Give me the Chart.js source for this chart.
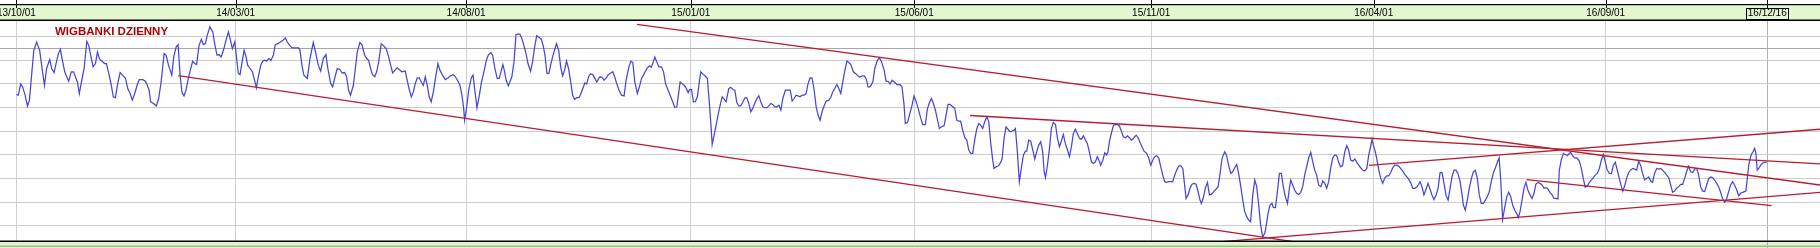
<!DOCTYPE html>
<html><head><meta charset="utf-8">
<script src="https://cdn.jsdelivr.net/npm/chart.js@4/dist/chart.umd.min.js"></script>
<style>html,body{margin:0;padding:0;background:#fff;overflow:hidden}canvas{display:block}</style>
</head><body>
<canvas id="c" width="1820" height="248"></canvas>
<script>
// ---------------- data ----------------
const chartTitle = 'WIGBANKI DZIENNY';
// trading-day index (0 = 2013-10-01) of each dated tick
const tickDays = [0, 100.6, 206.3, 309.4, 411.9, 520.6, 622.7, 729.1, 803.2];
const tickLabels = ['13/10/01','14/03/01','14/08/01','15/01/01','15/06/01','15/11/01','16/04/01','16/09/01','16/12/16'];
// level gridlines (relative index units); 8.5 is the darker reference line
const gridLevels = [1, 2, 3, 4, 5, 6, 7, 8, 8.5, 9];

const tradingDay = [
0.0,0.9,2.0,2.9,4.0,5.1,6.0,7.0,8.0,9.3,
10.7,11.8,12.9,13.9,15.3,16.2,17.3,18.4,19.3,20.2,
21.1,22.2,23.1,24.0,25.2,26.2,27.4,28.0,28.9,30.0,
31.1,32.3,33.2,34.1,35.2,36.3,37.2,38.1,39.3,40.5,
41.3,42.4,43.4,44.5,45.4,46.5,47.6,48.5,50.0,51.1,
52.2,53.2,54.3,55.4,56.4,58.0,59.2,60.1,60.9,61.6,
62.9,64.2,65.3,66.4,67.8,68.7,69.8,71.3,72.2,73.3,
74.2,75.1,76.0,76.9,77.8,78.9,79.8,80.9,81.8,82.7,
83.8,84.9,85.8,86.7,87.6,88.8,90.1,91.1,92.1,93.0,
93.9,95.0,96.2,97.3,98.2,99.1,100.2,100.9,101.8,102.6,
103.7,104.5,105.4,106.1,107.2,108.3,109.3,110.1,111.0,112.1,
113.0,113.9,114.8,115.8,116.8,117.9,118.8,120.0,121.1,122.3,
123.4,124.3,125.4,126.5,129.5,
130.1,131.0,131.9,133.5,134.7,136.2,137.4,138.5,139.6,140.8,
142.0,142.9,144.2,145.1,146.2,147.2,148.4,149.5,150.6,151.5,
152.4,153.3,154.6,155.5,156.4,157.6,158.5,159.8,160.7,161.6,
162.5,163.4,164.4,165.3,166.2,167.4,168.3,169.6,170.8,171.7,
172.6,173.7,174.7,176.0,176.9,178.4,179.3,180.3,181.2,182.1,
183.0,183.9,184.8,185.8,186.7,187.6,188.5,189.4,190.3,191.3,
192.5,193.4,194.3,195.5,196.8,198.0,199.2,200.4,201.4,202.6,
203.5,204.4,205.2,205.6,206.6,207.5,208.7,209.5,210.4,211.3,
212.4,213.4,214.5,215.6,216.6,217.7,218.5,219.5,220.6,221.5,
222.5,223.2,224.0,224.7,225.7,226.4,227.3,228.3,229.2,230.2,
231.0,231.9,232.8,233.8,234.7,235.9,236.8,237.7,238.7,239.9,
240.8,241.7,242.5,243.4,244.3,245.1,246.0,246.9,247.8,248.8,
249.7,250.6,251.5,252.4,253.3,254.3,255.2,256.1,257.0,258.2,
259.0,260.1,260.8,261.6,262.5,263.4,264.5,265.4,266.3,267.3,
267.8,268.7,269.6,270.6,271.5,272.4,273.6,274.5,275.4,276.5,
277.6,278.8,279.7,281.0,281.9,282.8,283.7,284.9,285.8,286.8,
287.7,288.6,289.5,290.4,291.3,292.3,292.9,293.8,294.7,295.9,
296.9,297.8,299.0,300.2,301.1,302.0,303.0,303.9,304.5,305.4,
306.3,307.2,308.2,308.8,309.7,310.6,311.5,312.4,313.4,314.0,
315.2,316.1,317.0,317.8,318.7,319.2,320.1,321.3,322.5,323.8,
324.7,325.6,326.8,327.7,328.7,329.6,330.5,331.4,332.3,333.2,
334.2,335.1,336.0,336.9,337.8,338.7,339.7,340.6,341.5,342.4,
343.3,344.3,345.2,346.1,347.0,347.9,348.8,349.8,350.7,351.6,
352.8,353.9,355.0,355.9,356.8,357.7,358.6,359.5,360.5,361.4,
362.3,363.2,364.1,365.0,366.0,366.9,367.8,368.7,369.6,370.6,
371.5,372.7,373.6,374.5,375.4,376.4,377.3,378.2,379.1,380.0,
381.0,381.9,382.8,384.0,384.9,385.8,386.8,388.0,388.9,389.8,
390.7,391.6,392.9,393.8,395.0,395.9,396.8,398.1,399.0,399.9,
400.8,401.7,402.7,403.9,
405.4,406.3,407.2,407.8,408.8,409.7,410.9,411.8,412.7,413.7,
414.9,415.8,417.0,417.9,418.9,419.8,420.7,421.6,422.5,423.4,
424.4,425.6,426.5,427.4,428.3,429.6,430.5,431.4,432.3,433.2,
434.1,435.1,436.0,436.9,437.8,438.7,439.7,440.6,441.5,442.4,
443.3,444.2,445.2,446.1,447.0,447.9,448.5,449.4,450.4,451.3,
452.2,453.1,454.0,454.9,455.9,456.8,457.7,458.3,459.2,460.1,
461.1,462.0,462.9,463.5,464.4,465.3,466.3,467.2,468.1,469.0,
469.9,470.8,471.5,472.1,473.0,473.9,474.8,475.7,476.7,477.6,
478.5,479.4,480.3,481.2,482.2,483.1,484.0,484.9,485.8,486.7,
487.7,488.6,489.5,490.4,491.3,492.2,493.2,494.1,495.0,495.9,
496.8,497.4,498.4,499.3,500.2,500.8,501.4,502.3,503.3,504.2,
505.1,506.0,506.9,507.8,508.8,509.7,510.6,511.5,512.4,513.7,
514.6,515.5,516.4,517.3,518.5,519.5,520.4,521.3,522.2,523.1,
524.1,525.0,525.9,526.8,527.7,528.6,530.5,531.4,532.3,533.2,
534.1,535.1,536.0,536.6,537.5,538.4,539.3,540.3,541.2,542.1,
543.0,543.6,544.5,545.4,546.4,547.3,548.2,549.4,550.3,551.3,
552.2,553.1,554.3,555.2,556.1,557.1,558.0,558.9,559.8,560.7,
561.7,562.6,563.5,564.4,565.3,566.2,567.2,568.1,569.0,569.9,
570.8,571.7,572.7,573.3,574.2,575.1,576.0,576.6,577.6,578.5,
579.4,580.3,581.2,582.1,583.1,584.0,584.6,585.5,586.4,587.3,
588.3,589.2,590.1,591.0,591.9,592.8,593.8,594.7,595.6,596.5,
597.4,598.4,599.3,600.2,601.1,602.0,602.9,603.9,604.8,605.7,
606.6,607.5,608.4,609.4,610.3,611.2,612.1,613.0,614.0,614.9,
615.8,616.7,617.6,618.5,619.5,620.4,621.3,621.9,622.5,623.4,
624.0,625.0,625.9,626.8,627.7,628.6,629.5,630.5,631.4,632.3,
633.2,634.1,635.0,636.0,636.9,637.8,638.7,639.6,640.6,641.5,
642.4,643.3,643.9,644.8,645.7,646.7,647.6,648.5,649.4,650.3,
651.3,652.2,653.1,654.0,654.9,655.8,656.8,657.7,658.6,659.5,
660.4,661.3,662.3,663.2,663.8,664.7,665.6,666.5,667.5,668.4,
669.3,670.2,671.1,672.0,673.0,673.9,674.8,675.7,676.6,677.6,
678.5,679.4,680.2,
680.9,681.8,682.7,683.7,684.6,685.5,686.4,687.3,688.2,689.0,
689.8,690.7,691.6,692.5,693.4,694.4,695.3,696.2,697.1,698.0,
698.9,699.9,700.8,701.7,702.6,703.5,704.5,705.4,706.3,707.2,
707.8,708.7,709.7,710.6,711.5,712.4,713.0,713.9,714.8,715.8,
717.0,717.9,718.8,719.7,720.7,721.6,722.5,723.4,724.3,725.2,
726.2,727.1,728.0,728.9,729.8,730.8,731.7,732.6,733.5,734.4,
735.3,736.3,736.9,737.8,738.7,739.6,740.5,741.5,742.4,743.3,
744.2,745.1,746.0,747.0,747.9,748.8,749.7,750.6,751.5,752.5,
753.4,754.3,755.2,756.1,757.1,758.0,758.9,759.8,760.7,761.6,
762.6,763.5,764.4,765.3,766.2,767.1,768.1,769.0,769.9,770.8,
771.7,772.6,773.6,774.5,775.4,776.3,777.2,778.2,779.1,780.0,
780.9,781.8,782.7,783.7,784.6,785.5,786.4,787.3,788.2,789.2,
790.1,791.0,791.9,792.8,793.4,794.1,794.7,795.3,795.9,796.8,
797.4,798.0,798.6,799.3,800.2,801.1,802.0,802.9
];

const indexLevel = [
6.55,6.52,7.00,6.87,6.52,6.06,6.31,7.37,8.42,8.77,
8.42,7.65,6.94,7.65,8.03,7.65,7.48,7.93,8.28,8.46,
8.00,7.51,7.30,7.11,7.51,7.51,7.23,7.08,6.59,7.15,
7.65,8.80,8.63,8.21,7.72,7.86,8.35,8.07,7.96,7.86,
7.86,7.44,7.01,6.45,6.41,7.01,7.48,7.39,7.25,6.80,
6.59,6.31,6.59,6.94,7.18,7.18,7.11,6.94,6.73,6.24,
6.17,6.07,6.38,7.08,8.28,8.21,7.79,7.37,8.14,8.56,
8.66,7.39,6.63,6.49,6.73,7.23,7.58,7.96,7.86,7.82,
8.63,8.89,8.66,8.70,9.06,9.41,9.20,8.63,8.21,8.24,
8.14,8.42,8.85,9.20,8.85,8.49,8.77,8.21,7.44,7.39,
8.00,8.42,8.14,7.79,7.65,7.51,7.15,6.83,7.30,7.79,
7.96,8.00,7.96,8.07,8.00,8.21,8.66,8.70,8.77,8.85,
8.94,8.77,8.63,8.52,8.52,
8.42,7.79,7.37,7.23,8.07,8.75,8.28,7.79,7.54,8.07,
8.24,7.65,7.01,6.87,7.30,7.65,7.61,7.46,7.48,7.30,
6.73,6.52,6.94,7.65,8.35,8.75,8.66,8.21,8.07,8.00,
7.65,7.39,7.30,7.51,7.93,8.70,8.63,8.49,8.14,7.79,
7.46,7.58,7.68,7.58,7.51,7.54,7.15,6.73,6.45,6.66,
7.01,7.25,7.25,7.08,6.94,7.30,6.94,6.45,6.24,6.66,
7.37,7.86,7.58,7.37,7.18,7.25,7.34,7.39,7.30,7.11,
6.94,6.52,5.96,5.46,6.03,6.73,7.25,7.37,6.66,5.99,
6.52,7.08,7.51,8.00,8.24,8.32,8.21,7.65,7.23,7.23,
7.58,7.82,7.51,7.15,6.92,7.08,7.30,7.93,9.08,9.11,
9.10,8.92,8.63,8.28,7.86,7.54,7.93,8.52,9.03,8.96,
8.89,8.61,8.21,7.44,7.44,7.79,8.14,8.42,8.70,8.42,
7.72,7.34,7.58,7.97,7.65,7.08,6.52,6.34,6.42,6.42,
6.59,6.87,7.04,6.99,7.30,7.42,7.39,7.23,7.08,7.25,
7.30,7.28,7.15,7.25,7.39,7.44,7.51,7.30,7.01,6.73,
6.52,6.49,7.15,7.72,7.96,7.90,7.08,6.59,6.87,7.23,
7.37,7.54,7.68,7.76,7.70,7.96,8.13,7.93,7.72,7.72,
7.51,7.01,6.73,6.45,6.24,6.00,6.03,6.66,7.08,7.01,
6.94,6.83,6.63,6.76,6.76,6.24,6.25,6.45,7.15,7.51,
7.39,7.32,7.23,6.31,5.18,4.44,4.83,5.39,5.96,6.45,
6.35,6.24,6.80,6.85,6.76,6.73,6.21,6.07,6.07,6.21,
6.41,6.41,6.17,5.82,5.96,6.17,6.38,6.49,6.24,6.03,
5.99,5.99,6.07,6.17,6.13,6.03,6.03,6.10,5.89,6.38,
6.73,6.73,6.73,6.27,6.38,6.52,6.49,6.45,6.52,6.52,
6.59,7.01,7.25,7.25,6.73,6.03,5.68,5.46,5.82,6.07,
6.27,6.31,6.42,6.66,6.80,6.97,6.80,6.59,7.08,7.54,
7.96,7.90,7.82,7.51,7.44,7.37,7.28,7.34,7.34,7.23,
6.87,6.87,7.08,7.65,8.00,8.10,7.96,7.58,7.11,7.11,
6.99,7.15,7.08,6.97,
6.97,6.87,6.13,5.32,5.37,5.68,6.10,6.49,6.27,5.96,
5.54,5.28,5.28,5.93,6.21,6.38,6.17,5.89,5.51,5.11,
5.18,5.23,5.68,6.13,6.13,6.03,5.96,5.46,5.42,5.42,
5.04,4.72,4.62,4.20,4.06,4.06,4.66,5.11,5.32,5.25,
5.11,5.39,5.61,5.39,4.48,3.77,3.42,3.49,3.52,3.63,
3.82,4.69,5.18,5.08,4.97,5.00,5.04,5.11,4.13,2.86,
3.49,3.99,4.15,4.15,4.62,4.58,4.20,3.82,4.13,4.41,
4.55,4.13,3.28,3.03,3.56,4.24,5.11,5.37,5.28,4.69,
4.34,4.58,4.86,4.48,4.20,3.92,4.34,4.90,5.08,4.90,
4.69,4.66,4.80,4.63,4.48,4.13,3.70,3.63,3.70,3.92,
3.73,3.56,3.77,4.08,3.99,4.13,4.55,4.90,5.25,5.28,
5.28,5.23,5.00,4.76,4.72,4.80,4.72,4.62,4.69,4.83,
4.72,4.52,4.34,4.15,4.06,3.85,3.56,3.77,3.92,3.96,
3.85,3.49,3.14,2.86,2.83,2.86,2.86,3.14,3.35,3.52,
3.54,3.42,2.65,2.15,2.30,2.58,2.75,2.79,2.75,2.44,
2.08,1.94,2.18,2.58,2.83,2.30,2.32,2.46,2.54,2.65,
3.21,3.85,4.13,3.96,3.56,3.21,3.28,3.45,3.59,3.21,
2.65,2.08,1.59,1.38,1.24,1.17,2.30,2.93,2.65,1.87,
1.03,0.53,0.68,0.96,1.52,1.87,1.94,1.77,1.76,2.44,
3.21,3.21,2.65,2.23,1.94,2.58,2.93,2.72,2.51,2.37,
2.32,2.41,2.65,3.14,3.49,3.85,4.10,3.70,3.35,3.14,
2.72,2.65,2.89,2.79,2.58,2.86,3.42,3.87,3.99,3.96,
3.68,3.49,3.54,4.13,4.38,4.20,3.77,3.73,3.82,3.68,
3.56,3.45,3.35,3.31,3.42,3.99,4.37,4.66,4.41,4.13,
3.87,3.35,3.00,2.79,3.00,3.11,3.11,3.25,3.45,3.56,
3.56,3.52,3.42,3.31,3.17,3.07,2.97,2.82,2.58,2.58,
2.63,2.75,2.86,2.65,2.30,2.55,2.79,2.55,2.30,2.11,
2.30,2.58,3.24,3.25,2.79,2.30,2.08,2.58,3.07,3.35,
3.35,3.21,2.86,2.30,1.87,1.65,2.08,2.58,3.00,3.28,
3.34,3.00,2.30,1.94,1.94,2.08,2.23,2.44,2.86,3.25,
3.45,3.68,3.87,
2.99,1.27,1.73,2.23,2.41,2.23,1.87,1.66,1.52,1.34,
1.59,2.08,2.58,2.83,2.51,2.30,2.15,2.37,2.76,2.83,
2.79,2.72,2.58,2.61,2.55,2.41,2.30,2.15,2.15,2.13,
3.35,3.77,4.06,4.01,3.96,4.06,4.10,3.96,3.87,3.87,
3.73,3.42,3.00,2.63,2.69,2.83,2.93,3.03,3.14,3.21,
3.42,3.77,4.01,3.70,3.35,3.21,3.20,3.56,3.68,3.35,
3.00,2.65,2.46,2.69,3.00,3.25,3.35,3.42,3.39,3.35,
3.73,3.56,3.21,2.93,3.00,3.06,2.89,2.83,3.21,3.42,
3.39,3.42,3.35,3.25,3.14,3.03,2.72,2.41,2.46,2.58,
2.65,2.75,2.75,3.00,3.28,3.51,3.28,3.25,3.39,3.42,
3.17,2.65,2.46,2.44,2.72,2.97,3.06,3.03,2.92,2.79,
2.65,2.41,2.15,1.99,2.15,2.44,2.72,2.86,2.72,2.51,
2.27,2.37,2.41,2.44,2.46,3.03,3.54,3.82,4.01,4.15,
4.27,4.06,3.35,3.42,3.56,3.65,3.68,3.68
];

// hand-drawn trend lines: start / end (trading day, level)
const trendStartDay   = [74.3, 284.7, 437.5, 620.5, 692.8, 548.9];
const trendStartLevel = [7.35, 9.52, 5.66, 3.55, 2.95, 0.29];
const trendEndDay     = [588.9, 827.4, 827.4, 827.4, 805.2, 827.4];
const trendEndLevel   = [0.28, 2.72, 3.61, 5.08, 1.85, 2.41];

// ---------------- chart ----------------
const DAY_MIN = -7.5, DAY_MAX = 827.4, LEVEL_MIN = 0.35, LEVEL_MAX = 9.66;
const FONT = '"Liberation Sans", Arial, sans-serif';

const n = Math.min(tradingDay.length, indexLevel.length);
const series = [];
for (let i = 0; i < n; i++) series.push({ x: tradingDay[i], y: indexLevel[i] });

const datasets = trendStartDay.map((d, i) => ({
  data: [{ x: d, y: trendStartLevel[i] }, { x: trendEndDay[i], y: trendEndLevel[i] }],
  borderColor: '#b81e2e', borderWidth: 1.3, pointRadius: 0, fill: false
}));
datasets.push({ data: series, borderColor: '#4646d8', borderWidth: 1.25, pointRadius: 0, fill: false, tension: 0 });

const frame = {
  id: 'frame',
  beforeDraw(chart) {
    const { ctx, width, height, chartArea: a } = chart;
    ctx.save();
    ctx.fillStyle = '#ffffff'; ctx.fillRect(0, 0, width, height);
    ctx.fillStyle = '#e2f7d0'; ctx.fillRect(0, 4, width, a.top - 4);
    ctx.fillStyle = '#def5cc'; ctx.fillRect(0, a.bottom, width, height - a.bottom);
    ctx.restore();
  },
  afterDraw(chart) {
    const { ctx, width, height, chartArea: a } = chart;
    const xs = chart.scales.x;
    ctx.save();
    ctx.fillStyle = '#000';
    ctx.fillRect(0, 4, width, 1.2);
    ctx.fillRect(0, a.top - 1.5, width, 1.5);
    ctx.fillRect(0, a.bottom - 0.5, width, 1.5);
    ctx.fillStyle = '#9cbf88';
    ctx.fillRect(0, height - 2.5, width, 1.5);
    // tick marks at the top edge
    ctx.strokeStyle = '#000'; ctx.lineWidth = 1;
    tickDays.forEach(d => {
      const x = Math.round(xs.getPixelForValue(d)) + 0.5;
      ctx.beginPath(); ctx.moveTo(x, 0); ctx.lineTo(x, 8); ctx.stroke();
    });
    // cursor line continues into the bottom band
    const xl = Math.round(xs.getPixelForValue(tickDays[tickDays.length - 1])) + 0.5;
    ctx.strokeStyle = '#b4b4b4';
    ctx.beginPath(); ctx.moveTo(xl, a.bottom + 1); ctx.lineTo(xl, height); ctx.stroke();
    // box around the last (cursor) date
    ctx.strokeStyle = '#000';
    ctx.strokeRect(xl - 21, 8.5, 42, 11);
    // title
    ctx.fillStyle = '#b00000';
    ctx.font = 'bold 11.5px ' + FONT;
    ctx.textBaseline = 'middle';
    ctx.fillText(chartTitle, 55, 31.5);
    ctx.restore();
  }
};

new Chart(document.getElementById('c'), {
  type: 'line',
  data: { datasets },
  plugins: [frame],
  options: {
    responsive: false, animation: false, devicePixelRatio: 1, events: [],
    layout: { padding: { left: 0, right: 0, top: 0, bottom: 7 } },
    plugins: { legend: { display: false }, tooltip: { enabled: false }, title: { display: false } },
    scales: {
      x: {
        type: 'linear', position: 'top', min: DAY_MIN, max: DAY_MAX,
        afterBuildTicks: s => { s.ticks = tickDays.map(v => ({ value: v })); },
        afterFit: s => { s.height = 21; s.paddingLeft = 0; s.paddingRight = 0; },
        ticks: {
          autoSkip: false, maxRotation: 0, minRotation: 0, padding: 2, color: '#000',
          font: { family: FONT, size: 10 },
          callback: (v, i) => tickLabels[i]
        },
        grid: {
          drawTicks: false,
          color: c => (c.index === tickDays.length - 1 ? '#b0b0b0' : '#cfcfcf'),
          lineWidth: 1
        },
        border: { display: false }
      },
      y: {
        type: 'linear', min: LEVEL_MIN, max: LEVEL_MAX,
        afterBuildTicks: s => { s.ticks = gridLevels.map(v => ({ value: v })); },
        afterFit: s => { s.width = 0; },
        ticks: { display: false },
        grid: { drawTicks: false, color: c => (c.tick && c.tick.value === 8.5 ? '#a8a8a8' : '#cdcdcd'), lineWidth: 1 },
        border: { display: false }
      }
    }
  }
});
</script>
</body></html>
